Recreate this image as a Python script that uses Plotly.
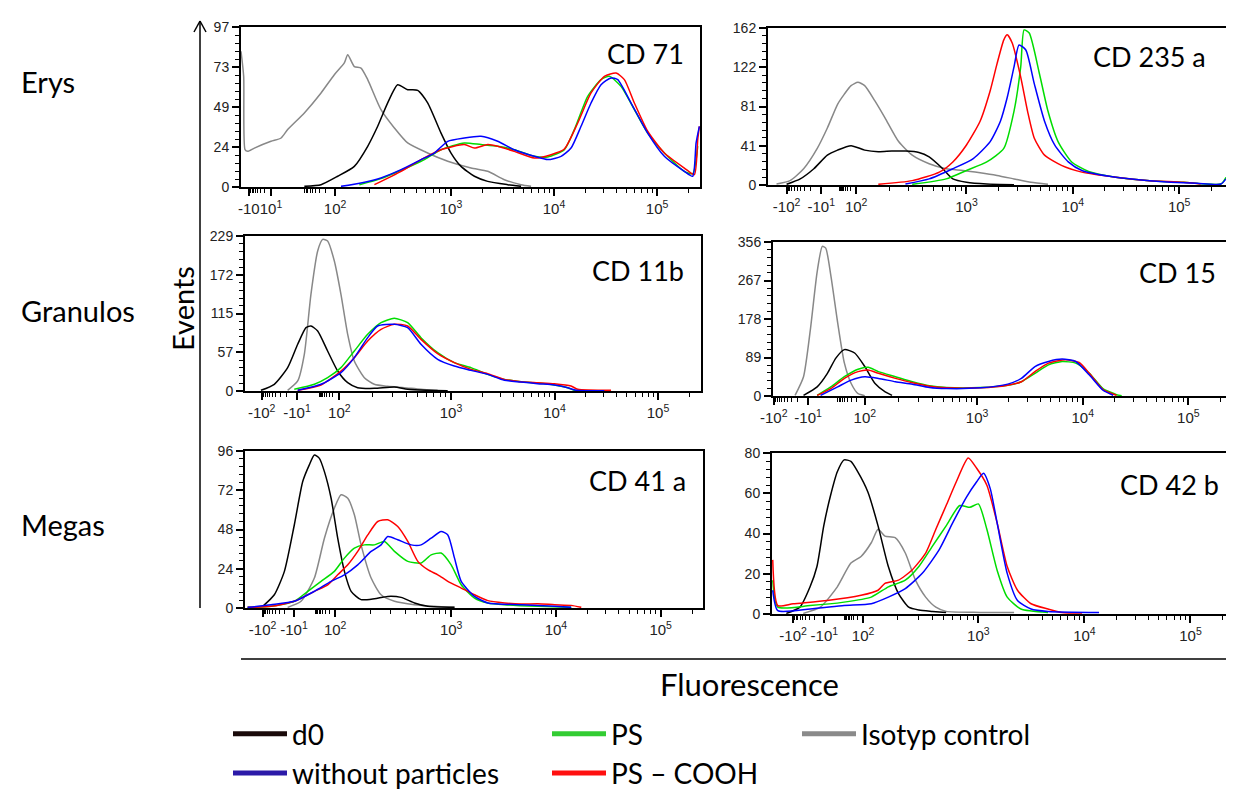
import math
import plotly.graph_objects as go

W, H = 1234, 793

# ---------------- DATA (x in display decades of the biexponential axis, y in events) -------------
SERIES = ["d0", "without particles", "PS", "PS – COOH", "Isotyp control"]

# CD 71 (Erys)
cd71_d0_x = [1.576, 1.738, 1.900, 2.061, 2.191, 2.288, 2.385, 2.482, 2.579, 2.676, 2.773, 2.903, 3.000, 3.097, 3.227, 3.356, 3.550, 3.680]
cd71_d0_y = [0.4, 1.4, 6.5, 12.5, 24.7, 36.8, 51.0, 62.0, 59.0, 58.6, 51.0, 32.7, 20.6, 12.5, 6.5, 3.4, 1.4, 0.4]
cd71_wo_x = [1.932, 2.126, 2.320, 2.515, 2.709, 2.838, 2.968, 3.129, 3.291, 3.453, 3.615, 3.809, 3.939, 4.068, 4.165, 4.262, 4.359, 4.456, 4.553, 4.618, 4.748, 4.909, 5.071, 5.265, 5.346, 5.379, 5.411]
cd71_wo_y = [0.4, 2.4, 5.5, 10.5, 16.6, 20.6, 27.7, 29.7, 30.7, 27.7, 22.6, 18.6, 16.6, 18.6, 23.6, 36.8, 50.9, 62.0, 66.1, 65.1, 50.9, 32.7, 18.6, 9.5, 6.5, 26.7, 36.8]
cd71_ps_x = [2.110, 2.320, 2.709, 2.903, 3.129, 3.291, 3.453, 3.615, 3.809, 3.939, 4.100, 4.197, 4.327, 4.456, 4.537, 4.650, 4.780, 4.909, 5.071, 5.265, 5.346, 5.395]
cd71_ps_y = [1.4, 5.1, 15.6, 22.6, 26.7, 25.7, 24.7, 22.6, 18.6, 18.2, 22.6, 34.8, 55.0, 65.1, 67.1, 61.0, 46.9, 32.7, 20.6, 9.5, 8.1, 24.7]
cd71_cooh_x = [2.256, 2.515, 2.709, 2.903, 3.129, 3.227, 3.356, 3.453, 3.615, 3.809, 3.971, 4.100, 4.230, 4.359, 4.489, 4.602, 4.683, 4.780, 4.909, 5.071, 5.265, 5.362, 5.395, 5.411]
cd71_cooh_y = [1.4, 9.5, 16.6, 22.6, 25.7, 23.6, 25.7, 24.7, 21.6, 17.6, 19.6, 23.0, 38.8, 57.0, 67.1, 69.1, 65.1, 50.9, 33.8, 20.6, 11.5, 7.5, 28.7, 36.8]
cd71_iso_x = [0.961, 0.987, 1.000, 1.026, 1.091, 1.252, 1.350, 1.414, 1.576, 1.738, 1.867, 1.964, 1.997, 2.061, 2.126, 2.191, 2.320, 2.450, 2.579, 2.773, 2.968, 3.194, 3.356, 3.518, 3.680, 3.777]
cd71_iso_y = [82.3, 67.1, 22.6, 21.6, 23.6, 27.7, 29.7, 34.8, 44.9, 57.0, 68.1, 75.2, 80.2, 73.0, 72.1, 65.1, 46.9, 35.8, 26.7, 20.6, 15.6, 11.5, 9.5, 4.4, 1.4, 0.4]

# CD 235 a (Erys)
cd235a_d0_x = [1.309, 1.437, 1.565, 1.692, 1.788, 1.915, 2.043, 2.171, 2.298, 2.426, 2.553, 2.649, 2.777, 2.872, 3.000, 3.191, 3.447]
cd235a_d0_y = [0.7, 6.3, 16.8, 30.8, 36.0, 40.6, 36.0, 34.3, 35.0, 35.0, 33.6, 29.0, 16.8, 6.3, 2.8, 1.0, 0.3]
cd235a_wo_x = [2.426, 2.649, 2.872, 3.064, 3.223, 3.319, 3.383, 3.447, 3.494, 3.558, 3.638, 3.734, 3.829, 3.957, 4.085, 4.404, 4.722, 5.169, 5.392, 5.440]
cd235a_wo_y = [1.0, 6.3, 16.8, 27.3, 44.8, 65.8, 90.3, 121.8, 144.5, 139.3, 104.3, 65.8, 41.3, 23.8, 15.0, 8.0, 4.5, 1.7, 1.0, 6.3]
cd235a_ps_x = [2.490, 2.809, 3.000, 3.191, 3.351, 3.447, 3.510, 3.542, 3.590, 3.686, 3.766, 3.861, 3.989, 4.148, 4.404, 4.722, 5.041, 5.392, 5.440]
cd235a_ps_y = [0.7, 6.3, 15.0, 23.8, 37.8, 76.3, 121.8, 160.0, 156.8, 114.8, 76.3, 44.8, 23.8, 14.0, 8.0, 4.5, 2.8, 1.0, 8.0]
cd235a_cooh_x = [2.171, 2.490, 2.745, 2.872, 3.000, 3.128, 3.223, 3.287, 3.351, 3.383, 3.431, 3.510, 3.574, 3.638, 3.734, 3.893, 4.085, 4.404, 4.722, 5.041, 5.201]
cd235a_cooh_y = [0.7, 4.5, 13.3, 23.8, 41.3, 65.8, 97.3, 125.0, 149.8, 155.0, 146.3, 111.3, 76.3, 48.3, 30.8, 20.3, 13.3, 8.0, 4.5, 2.8, 1.0]
cd235a_iso_x = [1.214, 1.341, 1.469, 1.597, 1.692, 1.788, 1.852, 1.915, 1.979, 2.043, 2.139, 2.234, 2.362, 2.490, 2.649, 2.809, 2.968, 3.128, 3.287, 3.447, 3.606, 3.766]
cd235a_iso_y = [1.0, 4.5, 16.8, 37.8, 58.8, 83.3, 93.8, 102.5, 106.0, 102.5, 86.8, 69.3, 44.8, 30.8, 22.0, 16.8, 15.0, 12.6, 9.8, 6.3, 2.8, 0.7]

# CD 11b (Granulos)
cd11b_d0_x = [1.164, 1.293, 1.422, 1.519, 1.599, 1.647, 1.712, 1.808, 1.905, 2.002, 2.098, 2.259, 2.452, 2.581, 2.775, 2.968]
cd11b_d0_y = [1.0, 9.9, 34.5, 69.0, 93.6, 96.0, 88.7, 59.1, 29.6, 12.3, 4.9, 3.9, 5.9, 2.5, 1.0, 0.5]
cd11b_wo_x = [1.519, 1.744, 1.937, 2.066, 2.195, 2.291, 2.452, 2.581, 2.710, 2.871, 3.032, 3.193, 3.354, 3.515, 3.676, 3.837, 3.998, 4.127, 4.208, 4.481]
cd11b_wo_y = [1.0, 9.9, 27.1, 49.3, 78.8, 96.0, 98.5, 93.6, 69.0, 46.8, 36.9, 30.5, 24.6, 15.8, 13.3, 10.8, 8.9, 4.9, 1.0, 0.5]
cd11b_ps_x = [1.486, 1.680, 1.808, 1.937, 2.066, 2.195, 2.324, 2.452, 2.581, 2.710, 2.871, 3.032, 3.193, 3.354, 3.515, 3.676, 3.837, 3.998, 4.127, 4.192, 4.320]
cd11b_ps_y = [2.5, 9.9, 19.7, 34.5, 59.1, 83.7, 101.0, 107.4, 101.0, 78.8, 56.6, 41.9, 34.5, 24.6, 17.2, 13.8, 11.8, 8.9, 4.9, 1.0, 0.5]
cd11b_cooh_x = [1.519, 1.744, 1.937, 2.066, 2.195, 2.324, 2.452, 2.581, 2.710, 2.871, 3.032, 3.193, 3.354, 3.515, 3.676, 3.837, 3.998, 4.159, 4.224, 4.546]
cd11b_cooh_y = [1.0, 8.9, 29.6, 49.3, 73.9, 91.1, 98.5, 96.0, 76.3, 55.2, 41.9, 32.0, 25.6, 17.2, 13.8, 12.3, 10.8, 7.4, 2.5, 1.0]
cd11b_iso_x = [1.422, 1.519, 1.583, 1.647, 1.712, 1.760, 1.808, 1.873, 1.937, 2.002, 2.066, 2.163, 2.259, 2.388, 2.549, 2.710, 2.871]
cd11b_iso_y = [1.0, 14.8, 54.2, 142.8, 206.9, 224.0, 221.6, 192.0, 142.8, 83.7, 44.3, 19.7, 9.9, 6.9, 4.9, 2.5, 1.0]

# CD 15 (Granulos)
cd15_d0_x = [1.357, 1.486, 1.583, 1.663, 1.744, 1.841, 1.937, 2.034, 2.130, 2.195]
cd15_d0_y = [1.6, 21.1, 52.4, 87.6, 107.2, 99.4, 68.1, 28.9, 9.4, 1.6]
cd15_wo_x = [1.519, 1.680, 1.808, 1.937, 2.066, 2.227, 2.388, 2.549, 2.710, 3.032, 3.290, 3.419, 3.548, 3.676, 3.805, 3.934, 4.063, 4.192, 4.288]
cd15_wo_y = [1.6, 21.1, 36.8, 44.6, 40.7, 32.9, 27.4, 19.6, 17.2, 18.8, 27.4, 40.7, 68.1, 79.8, 85.3, 79.8, 48.5, 13.3, 1.6]
cd15_ps_x = [1.486, 1.615, 1.744, 1.873, 1.969, 2.066, 2.227, 2.388, 2.549, 2.710, 3.032, 3.290, 3.419, 3.548, 3.676, 3.805, 3.934, 4.063, 4.192, 4.320, 4.369]
cd15_ps_y = [1.6, 21.1, 44.6, 61.8, 66.5, 56.3, 44.6, 32.9, 23.5, 19.6, 19.6, 25.0, 32.9, 52.4, 72.0, 79.8, 75.9, 52.4, 17.2, 3.1, 0.8]
cd15_cooh_x = [1.486, 1.615, 1.744, 1.873, 1.969, 2.066, 2.227, 2.388, 2.549, 2.710, 3.032, 3.290, 3.419, 3.548, 3.676, 3.837, 3.966, 4.063, 4.192, 4.320]
cd15_cooh_y = [1.6, 17.2, 40.7, 56.3, 60.2, 52.4, 40.7, 30.5, 22.7, 18.8, 18.8, 25.0, 32.9, 56.3, 75.9, 83.7, 77.5, 52.4, 14.9, 1.6]
cd15_iso_x = [1.277, 1.357, 1.422, 1.486, 1.535, 1.567, 1.615, 1.680, 1.744, 1.808, 1.873, 1.937]
cd15_iso_y = [1.6, 44.6, 154.1, 287.1, 345.8, 341.9, 279.3, 169.8, 75.9, 28.9, 5.5, 0.8]

# CD 41 a (Megas)
cd41a_d0_x = [1.201, 1.312, 1.408, 1.503, 1.583, 1.646, 1.694, 1.742, 1.790, 1.854, 1.917, 1.981, 2.045, 2.140, 2.268, 2.395, 2.522, 2.650, 2.777, 3.032]
cd41a_d0_y = [1.0, 8.1, 22.4, 50.9, 77.3, 87.5, 93.5, 91.5, 83.4, 67.1, 42.7, 22.4, 10.2, 5.1, 5.7, 7.1, 6.5, 3.1, 1.0, 0.4]
cd41a_wo_x = [1.057, 1.280, 1.503, 1.694, 1.854, 1.981, 2.108, 2.236, 2.331, 2.395, 2.490, 2.618, 2.713, 2.809, 2.904, 2.968, 3.032, 3.096, 3.223, 3.350, 3.669, 3.987, 4.146]
cd41a_wo_y = [0.4, 2.0, 4.1, 10.2, 16.3, 20.3, 26.4, 34.6, 38.6, 43.7, 41.7, 38.6, 38.6, 42.7, 46.8, 44.7, 30.5, 16.3, 7.1, 3.1, 2.0, 1.0, 0.4]
cd41a_ps_x = [1.057, 1.280, 1.503, 1.631, 1.758, 1.885, 1.981, 2.076, 2.172, 2.268, 2.363, 2.459, 2.586, 2.713, 2.809, 2.904, 3.000, 3.096, 3.223, 3.350, 3.510, 3.828, 4.146]
cd41a_ps_y = [0.4, 1.0, 4.1, 10.2, 16.3, 22.4, 30.5, 36.6, 38.6, 38.6, 40.7, 34.6, 28.5, 27.5, 32.5, 33.6, 26.4, 14.2, 6.1, 3.1, 2.0, 1.0, 0.4]
cd41a_cooh_x = [1.057, 1.280, 1.503, 1.694, 1.822, 1.917, 2.013, 2.108, 2.204, 2.299, 2.395, 2.490, 2.586, 2.682, 2.777, 2.873, 2.968, 3.096, 3.223, 3.350, 3.510, 3.669, 3.828, 3.987, 4.146, 4.242]
cd41a_cooh_y = [0.4, 1.0, 4.1, 10.2, 14.2, 20.3, 26.4, 34.6, 44.7, 52.9, 53.9, 49.8, 40.7, 28.5, 23.4, 20.3, 16.3, 12.2, 8.1, 4.5, 3.1, 2.4, 2.6, 2.0, 1.6, 0.4]
cd41a_iso_x = [1.439, 1.567, 1.694, 1.790, 1.885, 1.949, 2.013, 2.076, 2.140, 2.236, 2.331, 2.459, 2.650, 2.841, 3.032]
cd41a_iso_y = [0.4, 4.1, 18.3, 42.7, 61.0, 69.2, 67.1, 57.0, 38.6, 18.3, 8.1, 4.1, 2.0, 1.0, 0.4]

# CD 42 b (Megas)
cd42b_d0_x = [1.189, 1.317, 1.413, 1.478, 1.542, 1.606, 1.670, 1.734, 1.798, 1.862, 1.958, 2.054, 2.151, 2.247, 2.343, 2.439, 2.567, 2.696]
cd42b_d0_y = [0.3, 3.4, 13.5, 23.6, 43.8, 58.9, 70.7, 76.6, 75.8, 70.7, 60.6, 43.8, 23.6, 10.1, 3.4, 2.0, 1.3, 0.7]
cd42b_wo_x = [1.061, 1.109, 1.413, 1.734, 1.990, 2.151, 2.311, 2.471, 2.631, 2.760, 2.888, 2.984, 3.048, 3.112, 3.176, 3.272, 3.369, 3.497, 3.657, 4.138]
cd42b_wo_y = [11.8, 1.7, 2.5, 4.2, 5.1, 8.4, 12.6, 20.2, 32.0, 45.5, 58.1, 65.7, 69.9, 62.3, 45.5, 20.2, 6.7, 2.5, 1.3, 0.8]
cd42b_ps_x = [1.061, 1.109, 1.413, 1.734, 1.990, 2.151, 2.311, 2.439, 2.567, 2.696, 2.824, 2.920, 3.000, 3.080, 3.176, 3.272, 3.401, 3.657]
cd42b_ps_y = [16.8, 3.4, 4.2, 5.9, 8.4, 13.5, 16.8, 23.6, 33.7, 43.8, 53.9, 53.0, 54.7, 42.1, 21.9, 8.4, 2.5, 0.8]
cd42b_cooh_x = [1.061, 1.109, 1.253, 1.574, 1.894, 2.054, 2.119, 2.247, 2.375, 2.503, 2.599, 2.696, 2.792, 2.904, 2.984, 3.080, 3.176, 3.272, 3.369, 3.497, 3.657, 3.785, 3.978]
cd42b_cooh_y = [26.9, 4.2, 5.1, 6.7, 9.3, 11.8, 15.2, 16.8, 21.9, 30.3, 42.1, 53.9, 65.7, 77.5, 72.4, 64.0, 45.5, 23.6, 11.8, 5.1, 2.5, 0.8, 0.5]
cd42b_iso_x = [1.349, 1.510, 1.670, 1.798, 1.894, 1.990, 2.054, 2.119, 2.215, 2.311, 2.407, 2.503, 2.599, 2.696, 3.016, 3.337]
cd42b_iso_y = [0.3, 3.4, 13.5, 25.3, 28.6, 35.4, 42.1, 38.7, 37.9, 30.3, 16.8, 8.4, 3.4, 1.3, 0.8, 0.7]

# Panel titles, row labels
PANEL_TITLES = ["CD 71", "CD 235 a", "CD 11b", "CD 15", "CD 41 a", "CD 42 b"]
ROW_LABELS = ["Erys", "Granulos", "Megas"]

# Y tick labels (max events) per panel
Y_MAX = [97, 162, 229, 356, 96, 80]
Y_TICKTEXT = [["0", "24", "49", "73", "97"], ["0", "41", "81", "122", "162"],
              ["0", "57", "115", "172", "229"], ["0", "89", "178", "267", "356"],
              ["0", "24", "48", "72", "96"], ["0", "20", "40", "60", "80"]]

# X tick labels and their positions on the display scale
X_TICKTEXT = [["-10", "10<sup>1</sup>", "10<sup>2</sup>", "10<sup>3</sup>", "10<sup>4</sup>", "10<sup>5</sup>"]] + \
             [["-10<sup>2</sup>", "-10<sup>1</sup>", "10<sup>2</sup>", "10<sup>3</sup>", "10<sup>4</sup>", "10<sup>5</sup>"]] * 5
X_TICKVALS = [[1.036, 1.252, 1.874, 3, 4, 5],
              [1.309, 1.635, 1.963, 3, 4, 5],
              [1.171, 1.512, 1.921, 3, 4, 5],
              [1.075, 1.400, 1.937, 3, 4, 5],
              [1.200, 1.500, 1.893, 3, 4, 5],
              [1.253, 1.548, 1.913, 3, 4, 5]]
X_RANGE = [[0.961, 5.417], [1.134, 5.44], [1.010, 5.415], [1.068, 5.432], [1.032, 5.404], [1.054, 5.42]]

PANELS = [
    (cd71_d0_x, cd71_d0_y, cd71_wo_x, cd71_wo_y, cd71_ps_x, cd71_ps_y, cd71_cooh_x, cd71_cooh_y, cd71_iso_x, cd71_iso_y),
    (cd235a_d0_x, cd235a_d0_y, cd235a_wo_x, cd235a_wo_y, cd235a_ps_x, cd235a_ps_y, cd235a_cooh_x, cd235a_cooh_y, cd235a_iso_x, cd235a_iso_y),
    (cd11b_d0_x, cd11b_d0_y, cd11b_wo_x, cd11b_wo_y, cd11b_ps_x, cd11b_ps_y, cd11b_cooh_x, cd11b_cooh_y, cd11b_iso_x, cd11b_iso_y),
    (cd15_d0_x, cd15_d0_y, cd15_wo_x, cd15_wo_y, cd15_ps_x, cd15_ps_y, cd15_cooh_x, cd15_cooh_y, cd15_iso_x, cd15_iso_y),
    (cd41a_d0_x, cd41a_d0_y, cd41a_wo_x, cd41a_wo_y, cd41a_ps_x, cd41a_ps_y, cd41a_cooh_x, cd41a_cooh_y, cd41a_iso_x, cd41a_iso_y),
    (cd42b_d0_x, cd42b_d0_y, cd42b_wo_x, cd42b_wo_y, cd42b_ps_x, cd42b_ps_y, cd42b_cooh_x, cd42b_cooh_y, cd42b_iso_x, cd42b_iso_y),
]

# ---------------- STYLE ----------------
LINE_COLORS = {"d0": "#000000", "without particles": "#0000ff", "PS": "#00dd00",
               "PS – COOH": "#ff0000", "Isotyp control": "#888888"}
LEGEND_COLORS = {"d0": "#1a0a0a", "without particles": "#2b1aa8", "PS": "#33cc33",
                 "PS – COOH": "#ff1010", "Isotyp control": "#8a8a8a"}
DRAW_ORDER = ["Isotyp control", "d0", "PS", "PS – COOH", "without particles"]
TEXT_FONT = "Lato, 'Open Sans', sans-serif"
TICK_FONT = "'Liberation Sans', Arial, sans-serif"

# panel boxes in pixels: left, right, top, bottom
BOXES = [(233, 692, 19, 179), (760, 1218, 20, 177),
         (237, 693, 228, 383), (765, 1226, 234, 388),
         (237, 695, 443, 600), (764, 1227, 445, 606)]


def px(x):
    return x / W


def py(y):
    return 1 - y / H


fig = go.Figure()

for i, data in enumerate(PANELS):
    series = {SERIES[k]: (data[2 * k], data[2 * k + 1]) for k in range(5)}
    xa = "x" if i == 0 else f"x{i + 1}"
    ya = "y" if i == 0 else f"y{i + 1}"
    for name in DRAW_ORDER:
        xs, ys = series[name]
        fig.add_trace(go.Scatter(x=xs, y=ys, mode="lines", name=name, xaxis=xa, yaxis=ya,
                                 line=dict(color=LINE_COLORS[name], width=1.5, shape="spline", smoothing=0.6),
                                 showlegend=False, hoverinfo="skip"))

# legend entries (three columns)
LEGEND_OF = {"d0": "legend", "without particles": "legend", "PS": "legend2",
             "PS – COOH": "legend2", "Isotyp control": "legend3"}
for name in ["d0", "without particles", "PS", "PS – COOH", "Isotyp control"]:
    fig.add_trace(go.Scatter(x=[None], y=[None], mode="lines", name=name, xaxis="x", yaxis="y",
                             line=dict(color=LEGEND_COLORS[name], width=5),
                             legend=LEGEND_OF[name], showlegend=True))

layout = dict(template="none", width=W, height=H, margin=dict(l=0, r=0, t=0, b=0, pad=0, autoexpand=False),
              paper_bgcolor="white", plot_bgcolor="white", showlegend=True)


def minor_x(vals, lo, hi):
    m100, m10, p100 = vals[0], vals[1], vals[2]
    out = []
    for k in range(2, 10):
        lk = math.log10(k)
        out.append(m10 - (m10 - m100) * lk)
        out.append(p100 - (p100 - m10) * lk * 0.5)
        out.append(p100 + (3 - p100) * lk)
        for d in (3, 4, 5):
            out.append(d + lk)
    return [v for v in out if lo < v < hi]


for i in range(6):
    l, r, t, b = BOXES[i]
    xkey = "xaxis" if i == 0 else f"xaxis{i + 1}"
    ykey = "yaxis" if i == 0 else f"yaxis{i + 1}"
    yanchor = "y" if i == 0 else f"y{i + 1}"
    xanchor = "x" if i == 0 else f"x{i + 1}"
    ymax = Y_MAX[i]
    layout[xkey] = dict(domain=[px(l), px(r)], anchor=yanchor, range=X_RANGE[i], automargin=False,
                        tickmode="array", tickvals=X_TICKVALS[i], ticktext=X_TICKTEXT[i], tickangle=0,
                        ticks="outside", ticklen=7, tickwidth=1.5, tickcolor="black",
                        showline=True, linecolor="black", linewidth=2, mirror=True,
                        showgrid=False, zeroline=False,
                        tickfont=dict(family=TICK_FONT, size=15, color="#222"),
                        minor=dict(tickmode="array", tickvals=minor_x(X_TICKVALS[i], *X_RANGE[i]),
                                   ticks="outside", ticklen=4, tickwidth=1, tickcolor="black", showgrid=False))
    layout[ykey] = dict(domain=[py(b), py(t)], anchor=xanchor, range=[0, ymax], automargin=False,
                        tickmode="array", tickvals=[ymax * q / 4 for q in range(5)], ticktext=Y_TICKTEXT[i],
                        ticks="outside", ticklen=7, tickwidth=1.5, tickcolor="black",
                        showline=True, linecolor="black", linewidth=2, mirror=True,
                        showgrid=False, zeroline=False,
                        tickfont=dict(family=TICK_FONT, size=14, color="#222"),
                        minor=dict(tickmode="array", tickvals=[ymax * q / 20 for q in range(21)],
                                   ticks="outside", ticklen=4, tickwidth=1, tickcolor="black", showgrid=False))

legend_common = dict(orientation="v", yanchor="top", xanchor="left", bgcolor="rgba(0,0,0,0)",
                     font=dict(family=TEXT_FONT, size=28, color="black"), tracegroupgap=0,
                     itemwidth=54, y=py(701), borderwidth=0)
layout["legend"] = dict(x=px(220), **legend_common)
layout["legend2"] = dict(x=px(539), **legend_common)
layout["legend3"] = dict(x=px(789), **legend_common)

annotations = []
TITLE_POS = [(678, 45), (1200, 49), (678, 262), (1210, 264), (680, 472), (1213, 476)]
for (x, y), txt in zip(TITLE_POS, PANEL_TITLES):
    annotations.append(dict(text=txt, x=px(x), y=py(y), xref="paper", yref="paper",
                            xanchor="right", yanchor="middle", showarrow=False,
                            font=dict(family=TEXT_FONT, size=27, color="black")))
for y, txt in zip([73, 302, 516], ROW_LABELS):
    annotations.append(dict(text=txt, x=px(11), y=py(y), xref="paper", yref="paper",
                            xanchor="left", yanchor="middle", showarrow=False,
                            font=dict(family=TEXT_FONT, size=29, color="black")))
annotations.append(dict(text="Events", x=px(174), y=py(300), xref="paper", yref="paper",
                        xanchor="center", yanchor="middle", showarrow=False, textangle=-90,
                        font=dict(family=TEXT_FONT, size=29, color="black")))
annotations.append(dict(text="Fluorescence", x=px(741), y=py(676), xref="paper", yref="paper",
                        xanchor="center", yanchor="middle", showarrow=False,
                        font=dict(family=TEXT_FONT, size=31, color="black")))
layout["annotations"] = annotations

ln = dict(color="black", width=1.5)
shapes = [
    dict(type="line", xref="paper", yref="paper", x0=px(192), x1=px(192), y0=py(600), y1=py(13), line=ln),
    dict(type="line", xref="paper", yref="paper", x0=px(192), x1=px(186), y0=py(13), y1=py(24), line=ln),
    dict(type="line", xref="paper", yref="paper", x0=px(192), x1=px(198), y0=py(13), y1=py(24), line=ln),
    dict(type="line", xref="paper", yref="paper", x0=px(233), x1=px(1230), y0=py(651), y1=py(651), line=ln),
    dict(type="line", xref="paper", yref="paper", x0=px(1230), x1=px(1220), y0=py(651), y1=py(645), line=ln),
    dict(type="line", xref="paper", yref="paper", x0=px(1230), x1=px(1220), y0=py(651), y1=py(657), line=ln),
]
layout["shapes"] = shapes

fig.update_layout(**layout)
fig.write_html("out.html")
